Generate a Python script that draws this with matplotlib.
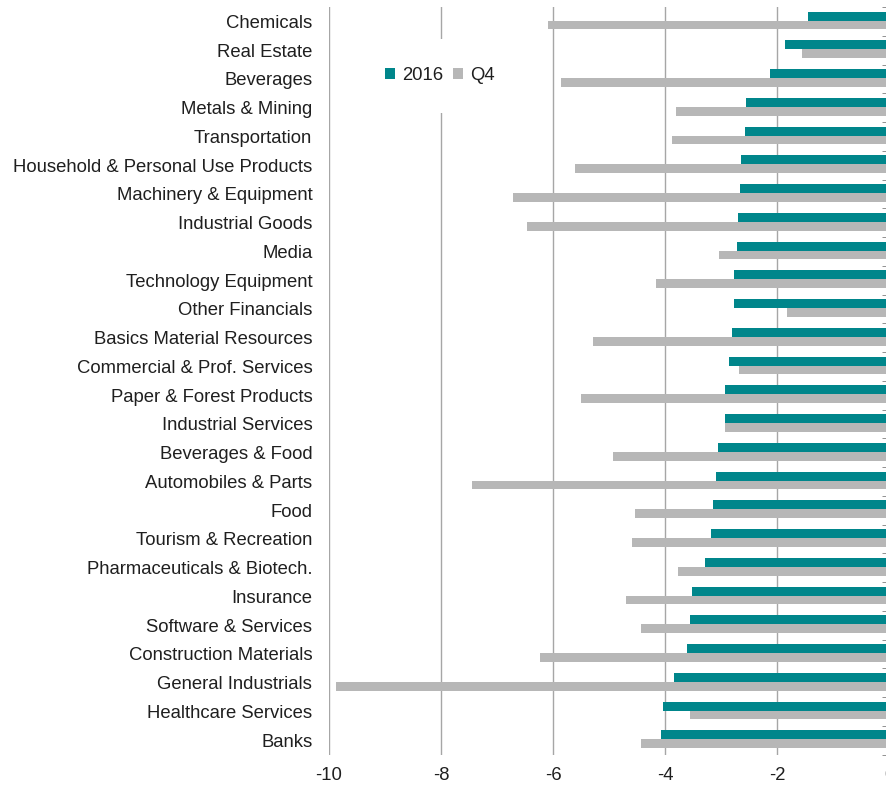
import matplotlib
matplotlib.use("Agg")
import matplotlib.pyplot as plt
from matplotlib.patches import Patch
import numpy as np

# Sector data (percent changes)
sectors = [
    "Chemicals", "Real Estate", "Beverages", "Metals & Mining", "Transportation",
    "Household & Personal Use Products", "Machinery & Equipment", "Industrial Goods",
    "Media", "Technology Equipment", "Other Financials", "Basics Material Resources",
    "Commercial & Prof. Services", "Paper & Forest Products", "Industrial Services",
    "Beverages & Food", "Automobiles & Parts", "Food", "Tourism & Recreation",
    "Pharmaceuticals & Biotech.", "Insurance", "Software & Services",
    "Construction Materials", "General Industrials", "Healthcare Services", "Banks",
]
values_2016 = [-1.45, -1.85, -2.12, -2.56, -2.58, -2.64, -2.66, -2.70, -2.72, -2.77,
               -2.77, -2.80, -2.86, -2.93, -2.93, -3.05, -3.09, -3.15, -3.17, -3.29,
               -3.51, -3.55, -3.60, -3.84, -4.04, -4.08]
values_q4 = [-6.09, -1.55, -5.86, -3.80, -3.88, -5.60, -6.71, -6.47, -3.03, -4.16,
             -1.83, -5.28, -2.68, -5.50, -2.92, -4.93, -7.44, -4.54, -4.59, -3.76,
             -4.69, -4.43, -6.24, -9.87, -3.56, -4.43]
x_ticks = [-10, -8, -6, -4, -2, 0]

teal = "#00868B"
grey = "#B7B7B7"
text_col = "#1f1f1f"
fs = 13.3

plt.rcParams["font.family"] = ["Liberation Sans", "DejaVu Sans"]
plt.rcParams["axes.unicode_minus"] = False

fig = plt.figure(figsize=(8.86, 7.87), dpi=100)
ax = fig.add_axes([329 / 886, 1 - 754.5 / 787, 560 / 886, 747.5 / 787])

y = np.arange(len(sectors))
h = 0.31
ax.barh(y - h / 2 - 0.03, values_2016, height=h, color=teal, zorder=3, label="2016")
ax.barh(y + h / 2 - 0.03, values_q4, height=h, color=grey, zorder=3, label="Q4")

ax.set_xlim(-10, 0)
ax.set_ylim(len(sectors) - 0.5, -0.5)

ax.set_xticks(x_ticks)
ax.set_xticklabels([str(t) for t in x_ticks])
ax.grid(axis="x", color="#A6A6A6", linewidth=1.0, zorder=0)
ax.set_axisbelow(True)

ax.set_yticks(y)
ax.set_yticklabels(sectors)
ax.set_yticks(np.arange(len(sectors) + 1) - 0.5, minor=True)
ax.tick_params(axis="y", which="major", length=0, pad=12, labelsize=fs, colors=text_col)
ax.tick_params(axis="y", which="minor", left=False, right=True, direction="in",
               length=5, color="#808080")
ax.tick_params(axis="x", length=0, pad=9, labelsize=fs, colors=text_col)

for side in ("left", "top", "bottom"):
    ax.spines[side].set_visible(False)
ax.spines["right"].set_color("#808080")

handles = [Patch(facecolor=teal, edgecolor="none"), Patch(facecolor=grey, edgecolor="none")]
leg = ax.legend(handles, ["2016", "Q4"], ncol=2, loc="center",
                bbox_to_anchor=(0.198, 0.908), frameon=True, facecolor="white",
                edgecolor="none", framealpha=1, fancybox=False, borderpad=1.55,
                handlelength=0.55, handleheight=0.55, handletextpad=0.35,
                columnspacing=0.55, fontsize=fs)
for t in leg.get_texts():
    t.set_color(text_col)

fig.savefig("out.png", dpi=100)
